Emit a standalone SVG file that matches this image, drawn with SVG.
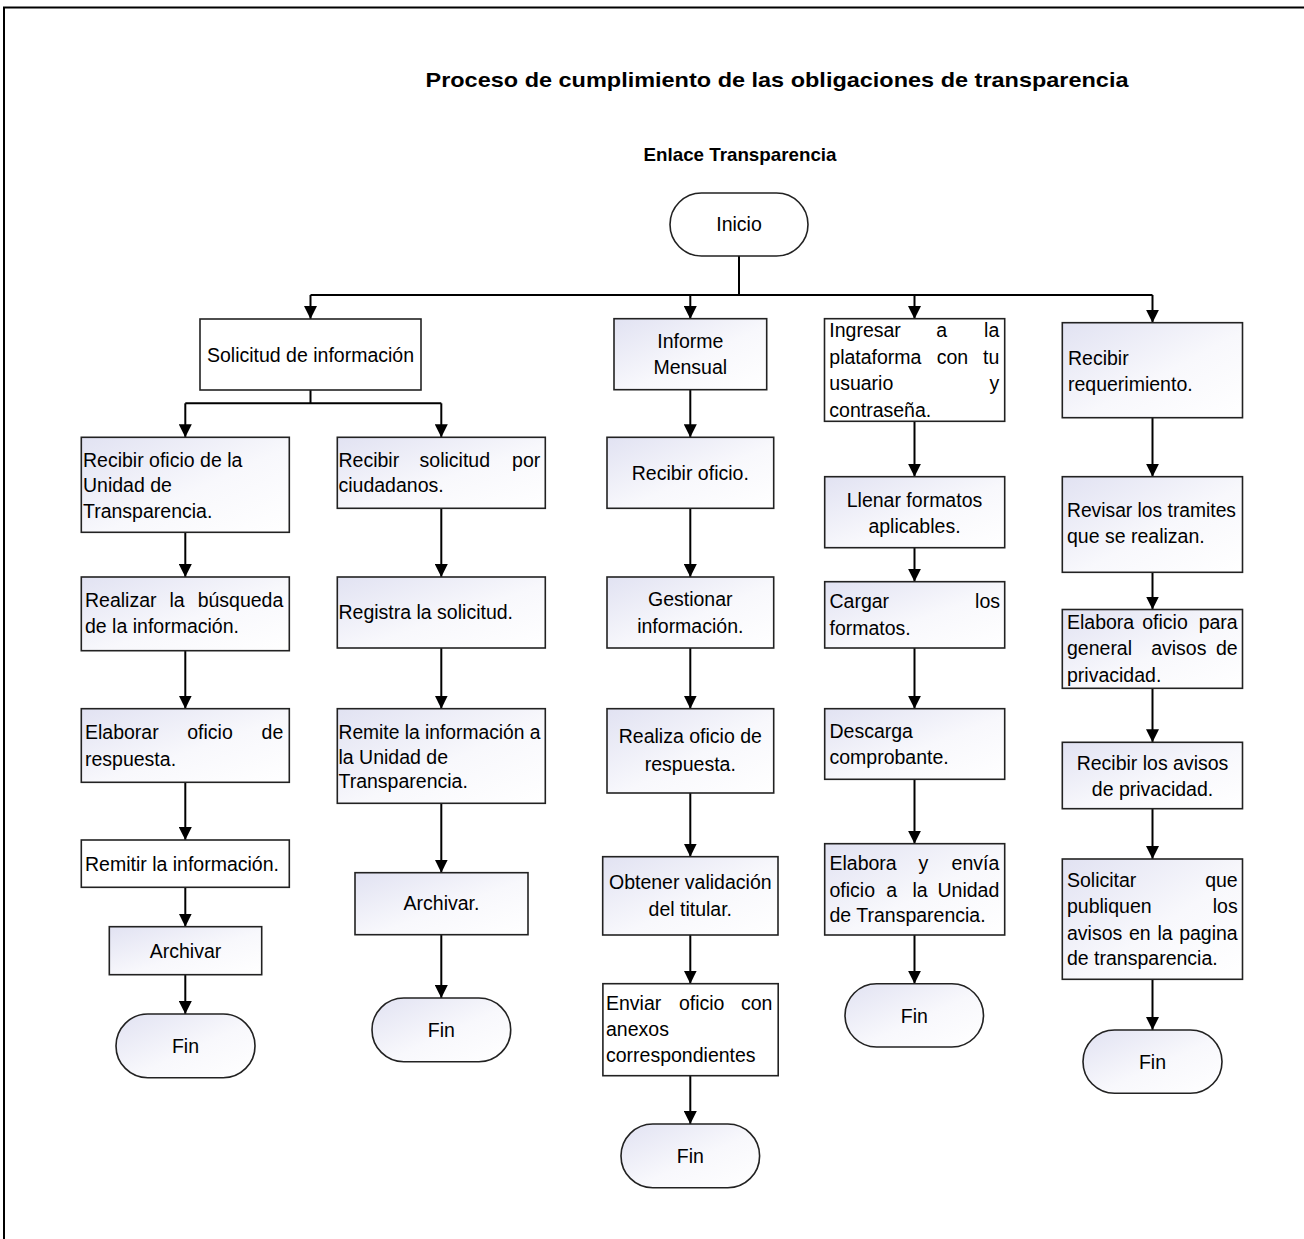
<svg xmlns="http://www.w3.org/2000/svg" width="1304" height="1239" viewBox="0 0 1304 1239">
<defs>
<linearGradient id="gf" x1="0" y1="0" x2="1" y2="1">
<stop offset="0" stop-color="#e1e2f2"/>
<stop offset="0.55" stop-color="#f8f8fc"/>
<stop offset="1" stop-color="#ffffff"/>
</linearGradient>
<marker id="ah" viewBox="0 0 13 13" refX="13" refY="6.5" markerWidth="13" markerHeight="13" markerUnits="userSpaceOnUse" orient="auto">
<path d="M0,0 L13,6.5 L0,13 z" fill="#000"/>
</marker>
</defs>
<style>
.t{font-family:"Liberation Sans",Arial,sans-serif;font-size:19.5px;fill:#000}
.c{text-anchor:middle}
.e{text-anchor:end}
.h{font-family:"Liberation Sans",Arial,sans-serif;font-weight:bold;fill:#000}
.b{fill:url(#gf);stroke:#222;stroke-width:1.6}
.w{fill:#fff;stroke:#222;stroke-width:1.6}
.ln{fill:none;stroke:#000;stroke-width:2}
.ar{fill:none;stroke:#000;stroke-width:2;marker-end:url(#ah)}
</style>
<rect x="0" y="0" width="1304" height="1239" fill="#fff"/>
<path d="M4,1239 V7.5 H1304" fill="none" stroke="#000" stroke-width="2"/>
<text class="h c" x="777" y="87" font-size="21" textLength="703" lengthAdjust="spacingAndGlyphs">Proceso de cumplimiento de las obligaciones de transparencia</text>
<text class="h c" x="740" y="161" font-size="18.5" textLength="193" lengthAdjust="spacingAndGlyphs">Enlace Transparencia</text>

<g id="connectors">
<path class="ln" d="M739,256 V295 M310.5,295 H1152.5"/>
<path class="ar" d="M310.5,295 V319"/>
<path class="ar" d="M690.3,295 V319"/>
<path class="ar" d="M914.5,295 V319"/>
<path class="ar" d="M1152.5,295 V322.7"/>
<path class="ln" d="M310.5,390 V403.3 M185.3,403.3 H441.3"/>
<path class="ar" d="M185.3,403.3 V437.3"/>
<path class="ar" d="M441.3,403.3 V437.3"/>
<path class="ar" d="M185.3,532.3 V577"/>
<path class="ar" d="M185.3,650.7 V708.7"/>
<path class="ar" d="M185.3,782.3 V840"/>
<path class="ar" d="M185.3,887.3 V926.7"/>
<path class="ar" d="M185.3,974.7 V1014"/>
<path class="ar" d="M441.3,508.3 V577"/>
<path class="ar" d="M441.3,648 V708.7"/>
<path class="ar" d="M441.3,803.3 V872.7"/>
<path class="ar" d="M441.3,934.7 V998"/>
<path class="ar" d="M690.3,389.7 V437.3"/>
<path class="ar" d="M690.3,508.3 V577"/>
<path class="ar" d="M690.3,648 V708.7"/>
<path class="ar" d="M690.3,793 V856.7"/>
<path class="ar" d="M690.3,935 V983.7"/>
<path class="ar" d="M690.3,1075.7 V1124"/>
<path class="ar" d="M914.5,421.3 V476.7"/>
<path class="ar" d="M914.5,547.7 V581.7"/>
<path class="ar" d="M914.5,648 V708.7"/>
<path class="ar" d="M914.5,779.3 V843.7"/>
<path class="ar" d="M914.5,935 V983.7"/>
<path class="ar" d="M1152.5,417.7 V476.7"/>
<path class="ar" d="M1152.5,572.3 V609.5"/>
<path class="ar" d="M1152.5,688.3 V742.3"/>
<path class="ar" d="M1152.5,808.7 V859"/>
<path class="ar" d="M1152.5,979.3 V1030"/>
</g>

<g id="inicio">
<rect class="w" x="670" y="193" width="138" height="63" rx="31.5"/>
<text class="t c" x="739" y="231">Inicio</text>
</g>

<g id="solicitud">
<rect class="w" x="200" y="319" width="221" height="71"/>
<text class="t c" x="310.5" y="361.5">Solicitud de información</text>
</g>

<g id="c1n1">
<rect class="b" x="81.3" y="437.3" width="208" height="95"/>
<text class="t" x="83" y="466.5">Recibir oficio de la</text>
<text class="t" x="83" y="492">Unidad de</text>
<text class="t" x="83" y="517.5">Transparencia.</text>
</g>
<g id="c1n2">
<rect class="b" x="81.3" y="577" width="208" height="73.7"/>
<text class="t" x="85" y="607.3">Realizar</text>
<text class="t c" x="177" y="607.3">la</text>
<text class="t e" x="283.3" y="607.3">búsqueda</text>
<text class="t" x="85" y="633.3">de la información.</text>
</g>
<g id="c1n3">
<rect class="b" x="81.3" y="708.7" width="208" height="73.6"/>
<text class="t" x="85" y="739.3">Elaborar</text>
<text class="t c" x="210" y="739.3">oficio</text>
<text class="t e" x="283.3" y="739.3">de</text>
<text class="t" x="85" y="766">respuesta.</text>
</g>
<g id="c1n4">
<rect class="w" x="81.3" y="840" width="208" height="47.3"/>
<text class="t" x="85" y="870.7">Remitir la información.</text>
</g>
<g id="c1n5">
<rect class="b" x="109.3" y="926.7" width="152.4" height="48"/>
<text class="t c" x="185.5" y="958">Archivar</text>
</g>
<g id="c1fin">
<rect class="b" x="116" y="1014" width="139" height="63.7" rx="31.8"/>
<text class="t c" x="185.5" y="1053">Fin</text>
</g>

<g id="c2n1">
<rect class="b" x="337.3" y="437.3" width="208" height="71"/>
<text class="t" x="338.5" y="466.5">Recibir</text>
<text class="t c" x="454.8" y="466.5">solicitud</text>
<text class="t e" x="540.3" y="466.5">por</text>
<text class="t" x="338.5" y="492">ciudadanos.</text>
</g>
<g id="c2n2">
<rect class="b" x="337.3" y="577" width="208" height="71"/>
<text class="t" x="338.5" y="619.3">Registra la solicitud.</text>
</g>
<g id="c2n3">
<rect class="b" x="337.3" y="708.7" width="208" height="94.6"/>
<text class="t" x="338.5" y="739" textLength="202" lengthAdjust="spacingAndGlyphs">Remite la información a</text>
<text class="t" x="338.5" y="763.5">la Unidad de</text>
<text class="t" x="338.5" y="788">Transparencia.</text>
</g>
<g id="c2n4">
<rect class="b" x="355" y="872.7" width="173" height="62"/>
<text class="t c" x="441.5" y="910">Archivar.</text>
</g>
<g id="c2fin">
<rect class="b" x="372" y="998" width="138.7" height="63.7" rx="31.8"/>
<text class="t c" x="441.3" y="1037">Fin</text>
</g>

<g id="c3n0">
<rect class="b" x="614" y="318.7" width="152.7" height="71"/>
<text class="t c" x="690.3" y="348.3">Informe</text>
<text class="t c" x="690.3" y="374">Mensual</text>
</g>
<g id="c3n1">
<rect class="b" x="607" y="437.3" width="166.7" height="71"/>
<text class="t c" x="690.3" y="480">Recibir oficio.</text>
</g>
<g id="c3n2">
<rect class="b" x="607" y="577" width="166.7" height="71"/>
<text class="t c" x="690.3" y="606">Gestionar</text>
<text class="t c" x="690.3" y="632.7">información.</text>
</g>
<g id="c3n3">
<rect class="b" x="607" y="708.7" width="166.7" height="84.3"/>
<text class="t c" x="690.3" y="743.3">Realiza oficio de</text>
<text class="t c" x="690.3" y="770.7">respuesta.</text>
</g>
<g id="c3n4">
<rect class="b" x="602.7" y="856.7" width="175.3" height="78.3"/>
<text class="t c" x="690.3" y="889.3">Obtener validación</text>
<text class="t c" x="690.3" y="915.7">del titular.</text>
</g>
<g id="c3n5">
<rect class="w" x="602.9" y="983.7" width="175.3" height="92"/>
<text class="t" x="606" y="1010">Enviar</text>
<text class="t c" x="701.7" y="1010">oficio</text>
<text class="t e" x="772.4" y="1010">con</text>
<text class="t" x="606" y="1036">anexos</text>
<text class="t" x="606" y="1062">correspondientes</text>
</g>
<g id="c3fin">
<rect class="b" x="621" y="1124" width="138.6" height="63.7" rx="31.8"/>
<text class="t c" x="690.3" y="1163">Fin</text>
</g>

<g id="c4n0">
<rect class="w" x="824.5" y="318.7" width="180.2" height="102.6"/>
<text class="t" x="829.3" y="337.3">Ingresar</text>
<text class="t c" x="941.7" y="337.3">a</text>
<text class="t e" x="999.3" y="337.3">la</text>
<text class="t" x="829.3" y="363.5">plataforma</text>
<text class="t c" x="952.5" y="363.5">con</text>
<text class="t e" x="999.3" y="363.5">tu</text>
<text class="t" x="829.3" y="390">usuario</text>
<text class="t e" x="999.3" y="390">y</text>
<text class="t" x="829.3" y="417">contraseña.</text>
</g>
<g id="c4n1">
<rect class="b" x="824.7" y="476.7" width="180" height="71"/>
<text class="t c" x="914.5" y="507">Llenar formatos</text>
<text class="t c" x="914.5" y="533">aplicables.</text>
</g>
<g id="c4n2">
<rect class="b" x="824.7" y="581.7" width="180" height="66.3"/>
<text class="t" x="829.5" y="608.3">Cargar</text>
<text class="t e" x="1000" y="608.3">los</text>
<text class="t" x="829.5" y="635">formatos.</text>
</g>
<g id="c4n3">
<rect class="b" x="824.7" y="708.7" width="180" height="70.6"/>
<text class="t" x="829.5" y="738.3">Descarga</text>
<text class="t" x="829.5" y="764">comprobante.</text>
</g>
<g id="c4n4">
<rect class="b" x="824.7" y="843.7" width="180" height="91.3"/>
<text class="t" x="829.5" y="870">Elabora</text>
<text class="t c" x="923.3" y="870">y</text>
<text class="t e" x="999.3" y="870">envía</text>
<text class="t" x="829.5" y="897.3">oficio</text>
<text class="t c" x="891.7" y="897.3">a</text>
<text class="t c" x="920" y="897.3">la</text>
<text class="t e" x="999.3" y="897.3">Unidad</text>
<text class="t" x="829.5" y="922.3">de Transparencia.</text>
</g>
<g id="c4fin">
<rect class="b" x="845" y="983.7" width="138.5" height="63.3" rx="31.6"/>
<text class="t c" x="914.3" y="1022.5">Fin</text>
</g>

<g id="c5n1">
<rect class="b" x="1062.3" y="322.7" width="180.2" height="95"/>
<text class="t" x="1068" y="365">Recibir</text>
<text class="t" x="1068" y="391">requerimiento.</text>
</g>
<g id="c5n2">
<rect class="b" x="1062.3" y="476.7" width="180.2" height="95.6"/>
<text class="t" x="1067" y="517.3" textLength="169" lengthAdjust="spacingAndGlyphs">Revisar los tramites</text>
<text class="t" x="1067" y="543.3">que se realizan.</text>
</g>
<g id="c5n3">
<rect class="b" x="1062.3" y="609.5" width="180.2" height="78.8"/>
<text class="t" x="1067" y="629.3">Elabora</text>
<text class="t c" x="1165" y="629.3">oficio</text>
<text class="t e" x="1237.7" y="629.3">para</text>
<text class="t" x="1067" y="655">general</text>
<text class="t c" x="1178.8" y="655">avisos</text>
<text class="t e" x="1237.7" y="655">de</text>
<text class="t" x="1067" y="681.7">privacidad.</text>
</g>
<g id="c5n4">
<rect class="b" x="1062.3" y="742.3" width="180.2" height="66.4"/>
<text class="t c" x="1152.5" y="770">Recibir los avisos</text>
<text class="t c" x="1152.5" y="796">de privacidad.</text>
</g>
<g id="c5n5">
<rect class="b" x="1062.3" y="859" width="180.2" height="120.3"/>
<text class="t" x="1067" y="886.7">Solicitar</text>
<text class="t e" x="1237.7" y="886.7">que</text>
<text class="t" x="1067" y="913.3">publiquen</text>
<text class="t e" x="1237.7" y="913.3">los</text>
<text class="t" x="1067" y="940">avisos</text>
<text class="t" x="1129" y="940">en</text>
<text class="t" x="1157.4" y="940">la</text>
<text class="t e" x="1237.7" y="940">pagina</text>
<text class="t" x="1067" y="965">de transparencia.</text>
</g>
<g id="c5fin">
<rect class="b" x="1083" y="1030" width="139" height="63.3" rx="31.6"/>
<text class="t c" x="1152.5" y="1069">Fin</text>
</g>
</svg>
